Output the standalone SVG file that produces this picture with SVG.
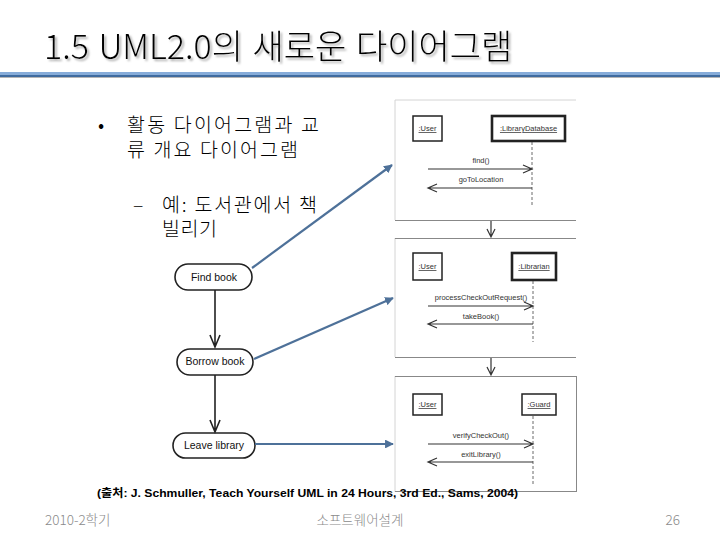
<svg xmlns="http://www.w3.org/2000/svg" width="720" height="540" viewBox="0 0 720 540">
<defs>
<style>
.title{font-family:"Noto Sans CJK KR","Liberation Sans",sans-serif;font-size:34px;font-weight:300;fill:#000;word-spacing:2px}
.body{font-family:"Noto Sans CJK KR",sans-serif;font-size:19.5px;font-weight:300;fill:#000}
.act{fill:#fff;stroke:#222;stroke-width:1.6}
.actText{font-family:"Liberation Sans",Arial,sans-serif;font-size:10.5px;fill:#111;text-anchor:middle}
.flow{stroke:#222;stroke-width:1.6;fill:none}
.blue{stroke:#4e7199;stroke-width:2.2;fill:none}
.frame{fill:#fff;stroke:none}
.fl{stroke:#d4d4d4;stroke-width:1;fill:none}
.fd{stroke:#888;stroke-width:1;fill:none}
.obj{fill:#fff;stroke:#222;stroke-width:1.5}
.objThick{fill:#fff;stroke:#222;stroke-width:2.6}
.objText{font-family:"Liberation Sans",Arial,sans-serif;font-size:7.5px;fill:#333;text-anchor:middle;text-decoration:underline}
.life{stroke:#444;stroke-width:0.8;stroke-dasharray:3,2;fill:none}
.msg{stroke:#333;stroke-width:1.2;fill:none}
.msgText{font-family:"Liberation Sans",Arial,sans-serif;font-size:7.5px;fill:#333;text-anchor:middle}
.cite{font-family:"Liberation Sans","Noto Sans CJK KR",sans-serif;font-size:11.5px;font-weight:bold;fill:#000}
.foot{font-family:"Noto Sans CJK KR","Liberation Sans",sans-serif;font-size:13.5px;font-weight:300;fill:#8a8a8a}
</style>
<filter id="shadow" x="-5%" y="-20%" width="110%" height="150%">
<feDropShadow dx="2" dy="2" stdDeviation="0.8" flood-color="#999" flood-opacity="0.8"/>
</filter>
<marker id="bh" viewBox="0 0 10 10" refX="9" refY="5" markerWidth="4" markerHeight="4" orient="auto">
<path d="M0,0 L10,5 L0,10 z" fill="#4e7199"/>
</marker>
</defs>
<rect width="720" height="540" fill="#fff"/>

<g id="title">
<text class="title" x="44" y="59" filter="url(#shadow)">1.5 UML2.0의 새로운 다이어그램</text>
<rect x="0" y="72" width="720" height="3" fill="#86acd9"/>
<rect x="0" y="75" width="720" height="2" fill="#3f6b9f"/>
<rect x="0" y="77" width="720" height="1" fill="#b5b5b5"/>
</g>

<g id="bullets">
<text class="body" x="98" y="132">•</text>
<text class="body" x="127" y="132" textLength="192">활동 다이어그램과 교</text>
<text class="body" x="127" y="157" textLength="171">류 개요 다이어그램</text>
<text class="body" x="133" y="212">–</text>
<text class="body" x="162" y="212" textLength="155">예: 도서관에서 책</text>
<text class="body" x="162" y="236" textLength="55">빌리기</text>
</g>

<g id="seq-frames">
<rect class="frame" x="395" y="100" width="181" height="392"/>
<path class="fl" d="M395,100 H576 M395,100 V220 M395,238 V357 M395,376 V492"/>
<path class="fd" d="M395,220.5 H576 M395,238.5 H576 M395,357.5 H576 M395,376.5 H576 M395,491.5 H577 M576.5,376 V492"/>
<path class="msg" d="M491,221 V237 M487,229 L491,237 L495,229"/>
<path class="msg" d="M491,358 V375 M487,367 L491,375 L495,367"/>
</g>

<g id="seq1">
<rect class="obj" x="413" y="116" width="29" height="25"/>
<text class="objText" x="427.5" y="131">:User</text>
<rect class="objThick" x="492" y="116" width="73" height="25"/>
<text class="objText" x="528.5" y="131">:LibraryDatabase</text>
<path class="life" d="M532,142 V205"/>
<path class="msg" d="M428,169 H532 M523,165 L532,169 L523,173"/>
<text class="msgText" x="481" y="163">find()</text>
<path class="msg" d="M532,188 H428 M437,184 L428,188 L437,192"/>
<text class="msgText" x="481" y="182">goToLocation</text>
</g>

<g id="seq2">
<rect class="obj" x="413" y="253" width="29" height="27"/>
<text class="objText" x="427.5" y="269">:User</text>
<rect class="objThick" x="512" y="253" width="44" height="27"/>
<text class="objText" x="534" y="269">:Librarian</text>
<path class="life" d="M533,281 V342"/>
<path class="msg" d="M428,306 H533 M524,302 L533,306 L524,310"/>
<text class="msgText" x="481" y="300">processCheckOutRequest()</text>
<path class="msg" d="M533,324 H428 M437,320 L428,324 L437,328"/>
<text class="msgText" x="481" y="319">takeBook()</text>
</g>

<g id="seq3">
<rect class="obj" x="413" y="394" width="29" height="21"/>
<text class="objText" x="427.5" y="407">:User</text>
<rect class="obj" x="522" y="394" width="34" height="21"/>
<text class="objText" x="539" y="407">:Guard</text>
<path class="life" d="M533,416 V484"/>
<path class="msg" d="M428,444 H533 M524,440 L533,444 L524,448"/>
<text class="msgText" x="481" y="438">verifyCheckOut()</text>
<path class="msg" d="M533,462 H428 M437,458 L428,462 L437,466"/>
<text class="msgText" x="481" y="457">exitLibrary()</text>
</g>

<g id="find-book">
<rect class="act" x="175" y="264" width="77" height="26" rx="13"/>
<text class="actText" x="214" y="281">Find book</text>
</g>
<g id="borrow-book">
<rect class="act" x="177" y="349" width="76" height="26" rx="13"/>
<text class="actText" x="215" y="365">Borrow book</text>
</g>
<g id="leave-library">
<rect class="act" x="173" y="433" width="82" height="25" rx="12.5"/>
<text class="actText" x="214" y="449">Leave library</text>
</g>

<g id="connectors">
<path class="flow" d="M215,290 V347 M210,335 L215,347 L220,335"/>
<path class="flow" d="M215,375 V432 M210,420 L215,432 L220,420"/>
<path class="blue" d="M252,268 L392,165" marker-end="url(#bh)"/>
<path class="blue" d="M254,359 L393,298" marker-end="url(#bh)"/>
<path class="blue" d="M255,444 L393,444" marker-end="url(#bh)"/>
</g>

<g id="citation">
<text class="cite" x="97" y="497" textLength="421" lengthAdjust="spacingAndGlyphs">(출처: J. Schmuller, Teach Yourself UML in 24 Hours, 3rd Ed., Sams, 2004)</text>
</g>

<g id="footer">
<text class="foot" x="45" y="525">2010-2학기</text>
<text class="foot" x="360" y="525" text-anchor="middle">소프트웨어설계</text>
<text class="foot" x="680" y="525" text-anchor="end">26</text>
</g>
</svg>
